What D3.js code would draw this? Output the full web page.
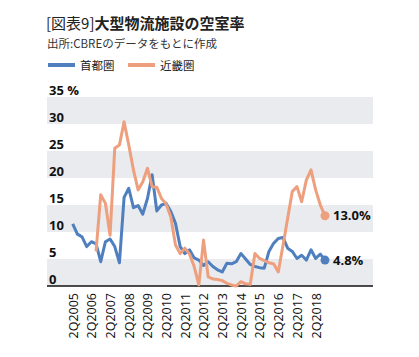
<!DOCTYPE html>
<html><head><meta charset="utf-8">
<script src="https://cdn.jsdelivr.net/npm/d3@7"></script>
<style>
html,body{margin:0;padding:0;background:#fff;}
svg{display:block;font-family:"Noto Sans CJK JP","Noto Sans",sans-serif;}
</style></head>
<body><svg id="c" width="419" height="357"></svg>
<script>
const tickLabels = ["2Q2005","2Q2006","2Q2007","2Q2008","2Q2009","2Q2010","2Q2011","2Q2012","2Q2013","2Q2014","2Q2015","2Q2016","2Q2017","2Q2018"];
const yTicks = [0,5,10,15,20,25,30,35];
const seriesNames = ["首都圏","近畿圏"];
// quarterly, 2Q2005 .. 4Q2018
const tokyo = [11.5,9.6,9.1,7.3,8.2,7.8,4.5,8.2,8.7,7.3,4.3,16.4,18.1,14.5,14.9,13.3,16.2,20.6,13.9,15.0,15.3,13.8,11.6,7.3,6.0,6.7,5.2,4.8,3.8,4.5,3.6,3.0,2.6,4.2,4.1,4.5,6.0,5.0,4.0,3.6,3.4,3.3,6.4,7.9,8.8,9.0,7.0,6.4,5.1,5.7,4.8,6.7,5.1,5.9,4.8];
const kinki = [null,null,null,null,null,6.4,16.9,15.3,9.4,25.5,26.1,30.4,26.1,21.5,17.8,19.3,21.8,18.4,18.3,16.2,15.2,12.8,7.6,6.0,7.0,5.9,3.6,0.2,8.5,1.7,1.3,1.2,1.0,0.5,0.2,0.0,0.8,0.4,0.3,6.0,5.1,4.7,4.3,4.1,2.6,7.5,12.5,17.5,18.4,15.6,19.6,21.5,17.8,15.0,13.0];
const colors = ["#4f7fbf","#ee9f7d"];
const endLabels = ["4.8%","13.0%"];

const svg = d3.select("#c");
const left = 47, right = 373;
const x = d3.scaleLinear().domain([0, 54]).range([72.7, 325]);
const y = d3.scaleLinear().domain([0, 35]).range([286, 97]);

// title
const t = svg.append("text").attr("x", 46).attr("y", 29).attr("font-size", 15).attr("fill", "#222");
t.append("tspan").attr("font-weight", 400).text("[図表9]");
t.append("tspan").attr("font-weight", 700).text("大型物流施設の空室率");
svg.append("text").attr("x", 47).attr("y", 48).attr("font-size", 11.5).attr("fill", "#333").text("出所:CBREのデータをもとに作成");

// legend
const lg = [{x:47},{x:127}];
seriesNames.forEach((n,i)=>{
  svg.append("line").attr("x1", lg[i].x+1).attr("x2", lg[i].x+28).attr("y1", 65).attr("y2", 65)
    .attr("stroke", colors[i]).attr("stroke-width", 4);
  svg.append("text").attr("x", lg[i].x+33).attr("y", 69.5).attr("font-size", 11.5).attr("fill", "#222").text(n);
});

// bands
for (let v = 0; v < 35; v += 10) {
  svg.append("rect").attr("x", left).attr("width", right-left)
    .attr("y", y(v+5)).attr("height", y(v)-y(v+5)).attr("fill", "#e9ebee");
}
// y labels
yTicks.forEach(v=>{
  svg.append("text").attr("x", 49).attr("y", y(v)-2).attr("font-size", 13).attr("font-weight", 700)
    .attr("fill", "#111").attr("font-family", "'Open Sans',sans-serif").text(v===35 ? "35 %" : v);
});

// axis
const xAxis = d3.axisBottom(x).tickValues(d3.range(0, 53, 4)).tickSize(0).tickFormat((d,i)=>tickLabels[i]);
const ax = svg.append("g").attr("transform", "translate(0,286)").call(xAxis);
ax.select(".domain").remove();
ax.selectAll("text").attr("transform", "rotate(-90)").attr("text-anchor", "end")
  .attr("x", -7).attr("y", 0).attr("dy", "0.35em").attr("font-size", 12.5)
  .attr("font-family", "'Open Sans',sans-serif").attr("fill", "#111");
svg.append("line").attr("x1", left).attr("x2", right).attr("y1", 286).attr("y2", 286)
  .attr("stroke", "#111").attr("stroke-width", 1.5);

// lines
const line = d3.line().defined(d=>d!=null).x((d,i)=>x(i)).y(d=>y(d));
[tokyo, kinki].forEach((s, ci)=>{
  svg.append("path").datum(s).attr("d", line).attr("fill", "none")
    .attr("stroke", colors[ci]).attr("stroke-width", 3).attr("stroke-linejoin", "round");
});
[tokyo, kinki].forEach((s, ci)=>{
  const last = s[s.length-1];
  svg.append("circle").attr("cx", x(s.length-1)).attr("cy", y(last)).attr("r", 4.5).attr("fill", colors[ci]);
  svg.append("text").attr("x", x(s.length-1)+8).attr("y", y(last)).attr("dy", "0.36em")
    .attr("font-size", 13).attr("font-weight", 700).attr("font-family", "'Open Sans',sans-serif")
    .attr("fill", "#111").text(endLabels[ci]);
});
</script></body></html>
